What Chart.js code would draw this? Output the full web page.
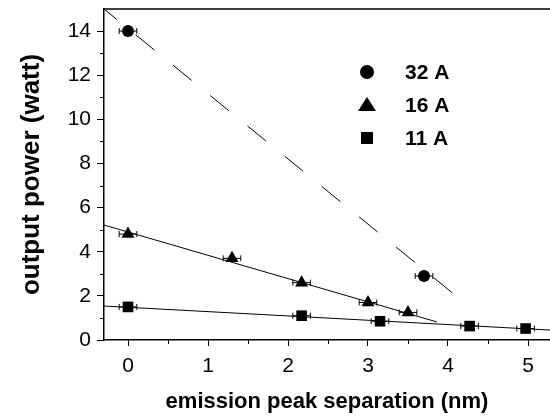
<!DOCTYPE html>
<html>
<head>
<meta charset="utf-8">
<script src="https://cdn.jsdelivr.net/npm/chart.js"></script>
<style>
  body { margin: 0; background: #fff; }
</style>
</head>
<body>
<canvas id="chart" width="550" height="419"></canvas>
<script>
// measured points (x = peak separation nm, y = output power W)
const sep32 = [0, 3.7];
const pow32 = [14, 2.9];
const sep16 = [0, 1.3, 2.17, 3.0, 3.5];
const pow16 = [4.8, 3.7, 2.6, 1.7, 1.25];
const sep11 = [0, 2.17, 3.15, 4.27, 4.97];
const pow11 = [1.5, 1.1, 0.85, 0.63, 0.52];
const sepErr = 0.11;

// linear fit lines, end points
const fit32X = [-0.3, 4.1];
const fit32Y = [15.0, 2.0];
const fit16X = [-0.3, 3.86];
const fit16Y = [5.21, 0.82];
const fit11X = [-0.3, 5.275];
const fit11Y = [1.54, 0.45];

const seriesLabels = ['32 A', '16 A', '11 A'];
const xTitle = 'emission peak separation (nm)';
const yTitle = 'output power (watt)';

const FONT = '"Liberation Sans", Arial, sans-serif';

const pts = (xs, ys) => xs.map((x, i) => ({x: x, y: ys[i]}));

const fitLine = (xs, ys, dash) => ({
  type: 'line',
  data: pts(xs, ys),
  borderColor: '#000',
  borderWidth: 1,
  borderDash: dash,
  borderDashOffset: 7,
  pointRadius: 0,
  fill: false,
  isFit: true
});

const marks = (label, xs, ys, style, r) => ({
  type: 'scatter',
  label: label,
  data: pts(xs, ys),
  pointStyle: style,
  pointRadius: r,
  pointHoverRadius: r,
  backgroundColor: '#000',
  borderColor: '#000',
  borderWidth: 0
});

const extras = {
  id: 'extras',
  beforeDatasetsDraw(chart) {
    const ctx = chart.ctx, xs = chart.scales.x, ys = chart.scales.y, a = chart.chartArea;
    ctx.save();
    ctx.strokeStyle = '#000';
    ctx.lineWidth = 1.5;
    // top frame line
    ctx.beginPath();
    ctx.moveTo(a.left, a.top);
    ctx.lineTo(a.right, a.top);
    ctx.stroke();
    // minor ticks
    ctx.lineWidth = 1;
    ctx.beginPath();
    for (let v = 1; v < 15; v += 2) {
      const py = Math.round(ys.getPixelForValue(v)) + 0.5;
      ctx.moveTo(a.left - 4, py);
      ctx.lineTo(a.left, py);
    }
    for (let v = 0.5; v < 5.3; v += 1) {
      const px = Math.round(xs.getPixelForValue(v)) + 0.5;
      ctx.moveTo(px, a.bottom);
      ctx.lineTo(px, a.bottom + 4);
    }
    ctx.stroke();
    // horizontal error bars
    ctx.beginPath();
    chart.data.datasets.forEach(ds => {
      if (ds.isFit) return;
      ds.data.forEach(p => {
        const x0 = xs.getPixelForValue(p.x - sepErr);
        const x1 = xs.getPixelForValue(p.x + sepErr);
        const py = ys.getPixelForValue(p.y);
        ctx.moveTo(x0, py); ctx.lineTo(x1, py);
        ctx.moveTo(x0, py - 3); ctx.lineTo(x0, py + 3);
        ctx.moveTo(x1, py - 3); ctx.lineTo(x1, py + 3);
      });
    });
    ctx.stroke();
    ctx.restore();
  },
  afterDraw(chart) {
    // legend inside the plot
    const ctx = chart.ctx;
    const mx = 367, tx = 405, rows = [72, 105, 138];
    ctx.save();
    ctx.fillStyle = '#000';
    ctx.beginPath();
    ctx.arc(mx, rows[0], 7, 0, Math.PI * 2);
    ctx.fill();
    ctx.beginPath();
    ctx.moveTo(mx, rows[1] - 8);
    ctx.lineTo(mx + 9, rows[1] + 6);
    ctx.lineTo(mx - 9, rows[1] + 6);
    ctx.closePath();
    ctx.fill();
    ctx.fillRect(mx - 6, rows[2] - 6, 12, 12);
    ctx.font = 'bold 21px ' + FONT;
    ctx.textBaseline = 'middle';
    seriesLabels.forEach((t, i) => ctx.fillText(t, tx, rows[i] + 1));
    ctx.restore();
  }
};

// keep the plot box fixed: no extra room for edge labels
function noPad(s) {
  s.paddingTop = 0; s.paddingBottom = 0;
  s.paddingLeft = 0; s.paddingRight = 0;
}

new Chart(document.getElementById('chart'), {
  data: {
    datasets: [
      fitLine(fit32X, fit32Y, [24, 24]),
      fitLine(fit16X, fit16Y, []),
      fitLine(fit11X, fit11Y, []),
      marks(seriesLabels[0], sep32, pow32, 'circle', 6),
      marks(seriesLabels[1], sep16, pow16, 'triangle', 7.5),
      marks(seriesLabels[2], sep11, pow11, 'rect', 7.5)
    ]
  },
  options: {
    responsive: false,
    animation: false,
    layout: { autoPadding: false, padding: { top: 9, right: 0, left: 0, bottom: 0 } },
    plugins: { legend: { display: false }, tooltip: { enabled: false } },
    scales: {
      x: {
        type: 'linear',
        min: -0.3,
        max: 5.275,
        afterFit(s) { s.height = 79; noPad(s); },
        ticks: {
          stepSize: 1,
          includeBounds: false,
          color: '#000',
          padding: 8,
          font: { family: FONT, size: 21 }
        },
        grid: { drawOnChartArea: false, drawTicks: true, tickLength: 6, color: '#000', lineWidth: 1 },
        border: { display: true, color: '#000', width: 1.5 },
        title: {
          display: true,
          text: xTitle,
          color: '#000',
          padding: { top: 0, bottom: 4 },
          font: { family: FONT, size: 22, weight: 'bold' }
        }
      },
      y: {
        type: 'linear',
        min: 0,
        max: 15,
        afterFit(s) { s.width = 104; noPad(s); },
        ticks: {
          stepSize: 2,
          includeBounds: false,
          color: '#000',
          padding: 6,
          font: { family: FONT, size: 21 }
        },
        grid: { drawOnChartArea: false, drawTicks: true, tickLength: 7, color: '#000', lineWidth: 1 },
        border: { display: true, color: '#000', width: 1.5 },
        title: {
          display: true,
          text: yTitle,
          color: '#000',
          padding: { top: 16, bottom: 0 },
          font: { family: FONT, size: 26, weight: 'bold' }
        }
      }
    }
  },
  plugins: [extras]
});
</script>
</body>
</html>
